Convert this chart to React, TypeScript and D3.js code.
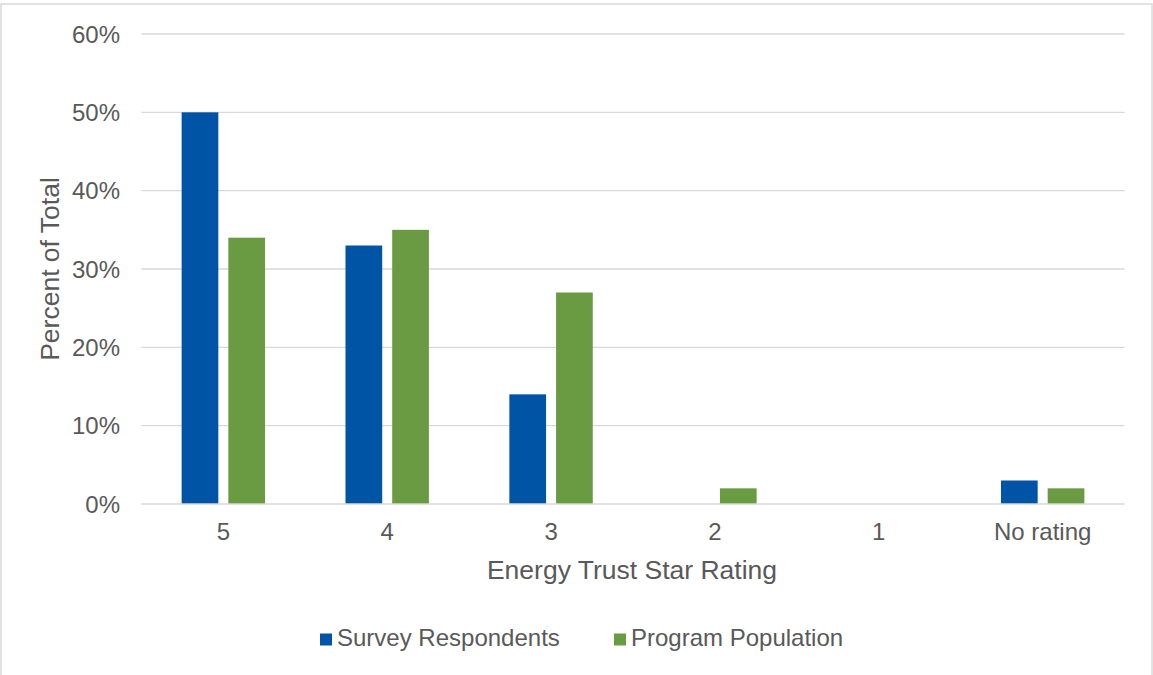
import React from "react";
import * as d3 from "d3";

const categories = ["5", "4", "3", "2", "1", "No rating"];
const seriesNames = ["Survey Respondents", "Program Population"];
const surveyRespondents = [50, 33, 14, 0, 0, 3];
const programPopulation = [34, 35, 27, 2, 0, 2];
const yTicks = [0, 10, 20, 30, 40, 50, 60];
const colors = ["#0054A6", "#6A9B42"];

const W = 1153;
const H = 675;
const margin = { left: 141.4, right: 1124.6, top: 34, bottom: 504 };
const font = "Liberation Sans, Arial, sans-serif";
const textColor = "#595959";

export default function App() {
  const x = d3.scaleBand<string>().domain(categories).range([margin.left, margin.right]).padding(0);
  const y = d3.scaleLinear().domain([0, 60]).range([margin.bottom, margin.top]);
  const bw = x.bandwidth();
  const barW = bw * 0.224;
  const gap = bw * 0.061;
  const series = [surveyRespondents, programPopulation];

  return (
    <svg width={W} height={H} style={{ position: "absolute", left: 0, top: 0, background: "#fff" }}>
      <rect x={1} y={4} width={1151} height={700} fill="#fff" stroke="#d9d9d9" strokeWidth={1.5} />
      {yTicks.map((t) => (
        <g key={t}>
          {t > 0 && (
            <line x1={margin.left} x2={margin.right} y1={y(t)} y2={y(t)} stroke="#d9d9d9" strokeWidth={1.3} />
          )}
          <text x={120} y={y(t)} dy="0.36em" textAnchor="end" fontFamily={font} fontSize={24} fill={textColor}>
            {t}%
          </text>
        </g>
      ))}
      {series.map((vals, si) =>
        vals.map((v, i) => {
          const cx = (x(categories[i]) as number) + bw / 2;
          const bx = si === 0 ? cx - gap / 2 - barW : cx + gap / 2;
          return v > 0 ? (
            <rect key={`${si}-${i}`} x={bx} y={y(v)} width={barW} height={y(0) - y(v)} fill={colors[si]} />
          ) : null;
        })
      )}
      <line x1={margin.left} x2={margin.right} y1={y(0)} y2={y(0)} stroke="#d9d9d9" strokeWidth={1.5} />
      {categories.map((c) => (
        <text
          key={c}
          x={(x(c) as number) + bw / 2}
          y={540}
          textAnchor="middle"
          fontFamily={font}
          fontSize={24}
          fill={textColor}
        >
          {c}
        </text>
      ))}
      <text x={632} y={579} textAnchor="middle" fontFamily={font} fontSize={26.5} fill={textColor}>
        Energy Trust Star Rating
      </text>
      <text
        transform={`translate(59, ${(margin.top + margin.bottom) / 2}) rotate(-90)`}
        textAnchor="middle"
        fontFamily={font}
        fontSize={26.5}
        fill={textColor}
      >
        Percent of Total
      </text>
      {seriesNames.map((n, i) => {
        const lx = i === 0 ? 320 : 614;
        return (
          <g key={n}>
            <rect x={lx} y={633.5} width={12} height={12} fill={colors[i]} />
            <text x={lx + 17} y={645.5} fontFamily={font} fontSize={24} fill={textColor}>
              {n}
            </text>
          </g>
        );
      })}
    </svg>
  );
}
